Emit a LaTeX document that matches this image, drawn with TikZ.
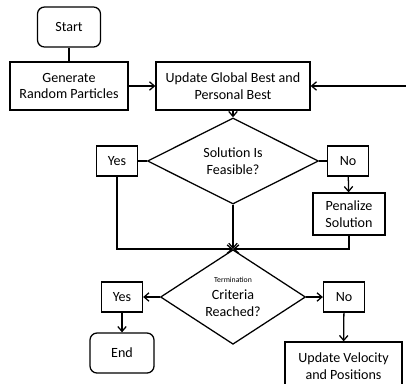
\documentclass[tikz,border=0pt]{standalone}
\usepackage{fontspec}
\setmainfont{Carlito}
\usetikzlibrary{arrows.meta}
\usetikzlibrary{positioning,shapes.geometric}
\tikzset{
  procbox/.style={draw, line width=0.9pt, align=center, inner sep=1pt,
    font=\fontsize{10}{12}\selectfont},
  termbox/.style={procbox, rounded corners=5pt},
  decbox/.style={draw, diamond, line width=0.9pt, align=center, inner sep=0pt,
    font=\fontsize{10}{12}\selectfont},
  flow/.style={line width=0.9pt, -{Straight Barb[length=3.5pt,width=6pt]}},
  plain/.style={line width=0.9pt}
}

\begin{document}
\begin{tikzpicture}[x=0.025cm,y=-0.025cm]
      \useasboundingbox (0,0) rectangle (406,383);
      % top row
      \node[termbox, minimum width=1.575cm, minimum height=1cm] (start) at (69,27) {Start};
      \node[procbox, minimum width=2.95cm, minimum height=1.2cm] (gen) at (69,86) {Generate\\Random Particles};
      \node[procbox, minimum width=3.85cm, minimum height=1.2cm] (upd) at (233,86) {Update Global Best and\\Personal Best};
      \coordinate (back) at (406,86);
      % feasibility check
      \node[decbox, minimum width=4.275cm, minimum height=1.85cm] (feas) at (233,161) {Solution Is\\Feasible?};
      \node[procbox, minimum width=1.025cm, minimum height=0.75cm] (yesa) at (117,161) {Yes};
      \node[procbox, minimum width=1.025cm, minimum height=0.75cm] (noa) at (348,161) {No};
      \node[procbox, minimum width=1.8cm, minimum height=1.05cm] (pen) at (349,214) {Penalize\\Solution};
      % termination check
      \node[decbox, minimum width=3.625cm, minimum height=2.25cm] (term) at (233,297) {{\fontsize{5.5}{7}\selectfont Termination}\\Criteria\\Reached?};
      \node[procbox, minimum width=1.025cm, minimum height=0.75cm] (yesb) at (122,297) {Yes};
      \node[procbox, minimum width=1.025cm, minimum height=0.75cm] (nob) at (344,297) {No};
      \node[termbox, minimum width=1.6cm, minimum height=1cm] (end) at (122,353) {End};
      \node[procbox, minimum width=2.925cm, minimum height=1.2cm] (vel) at (343.5,366) {Update Velocity\\and Positions};
      % connectors
      \draw[plain] (start) -- (gen);
      \draw[flow] (gen) -- (upd);
      \draw[flow] (back) -- (upd);
      \draw[flow] (upd) -- (feas);
      \draw[plain] (feas.west) -- (yesa);
      \draw[plain] (feas.east) -- (noa);
      \draw[flow] (noa) -- (pen);
      \draw[flow] (yesa.south) |- (term.north);
      \draw[flow] (pen.south) |- (term.north);
      \draw[flow] (feas.south) -- (term.north);
      \draw[flow] (term.west) -- (yesb);
      \draw[flow] (term.east) -- (nob);
      \draw[flow] (yesb) -- (end);
      \draw[flow] (nob) -- (vel);
    \end{tikzpicture}
\end{document}
